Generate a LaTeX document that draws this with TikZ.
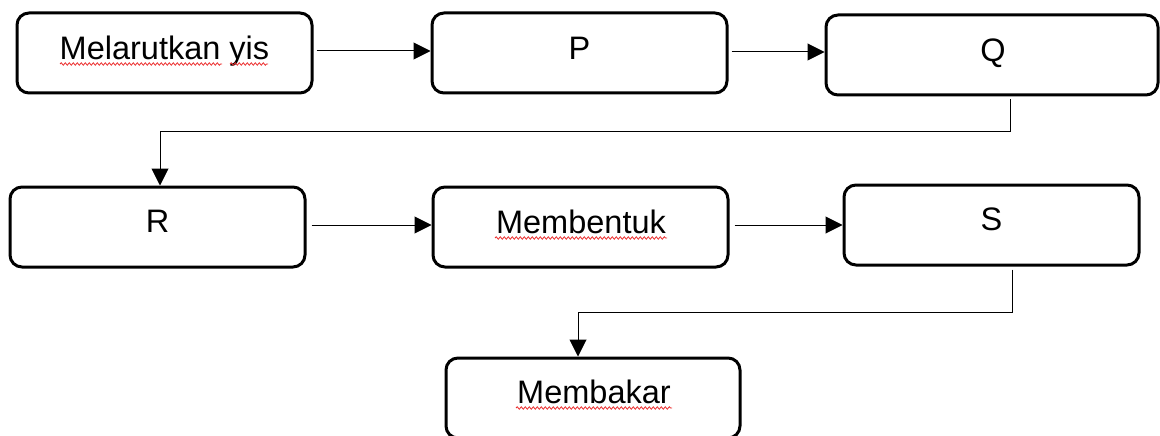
\documentclass[tikz,border=0pt]{standalone}
\usepackage{fontspec}
\setmainfont{Liberation Sans}
\usetikzlibrary{arrows.meta,decorations.pathmorphing}
\definecolor{squig}{RGB}{235,45,45}
\begin{document}
\begin{tikzpicture}[x=1pt,y=-1pt,
  box/.style={draw, line width=3pt, rounded corners=12pt, minimum width=295pt, minimum height=80pt, inner sep=0pt},
  txt/.style={inner sep=0pt, anchor=base, font=\fontsize{32.5}{39}\selectfont},
  conn/.style={line width=1pt},
  arr/.style={conn, -{Triangle[length=17pt,width=17pt]}},
  squiggle/.style={draw=squig, line width=0.8pt, decorate, decoration={snake, segment length=4pt, amplitude=1.2pt}}]
\useasboundingbox (0,0) rectangle (1160,436);
\clip (0,0) rectangle (1160,436);

% boxes
\node[box] (b1) at (164.5,53) {};
\node[box] (b2) at (579.5,53) {};
\node[box, minimum width=332pt] (b3) at (992,55) {};
\node[box] (b4) at (157.5,227) {};
\node[box] (b5) at (580.5,227) {};
\node[box] (b6) at (991.5,225) {};
\node[box, minimum width=294pt] (b7) at (593,398) {};

% texts
\node[txt] (t1) at (164.5,60) {Melarutkan yis};
\node[txt] (t2) at (579.5,60) {P};
\node[txt] (t3) at (993,62) {Q};
\node[txt] (t4) at (157.5,232) {R};
\node[txt] (t5) at (581,233) {Membentuk};
\node[txt] (t6) at (991.5,230) {S};
\node[txt] (t7) at (594,403) {Membakar};

% spelling squiggles
\draw[squiggle] (60,64) -- (222,64);
\draw[squiggle] (230,64) -- (268,64);
\draw[squiggle] (495,238) -- (667,238);
\draw[squiggle] (516,408) -- (672,408);

% bend coordinates
\coordinate (k1) at (160,131);
\coordinate (k2) at (578,312);

% connectors
\draw[arr] ([xshift=3pt,yshift=2pt]b1.east) -- ([yshift=2pt]b2.west);
\draw[arr] ([xshift=3pt,yshift=1pt]b2.east) -- ([yshift=3pt]b3.west);
\draw[arr] ([xshift=18pt,yshift=-3pt]b3.south) |- (k1) -- (b4.north -| k1);
\draw[arr] ([xshift=5pt,yshift=2pt]b4.east) -- ([yshift=2pt]b5.west);
\draw[arr] ([xshift=5pt,yshift=2pt]b5.east) -- (b6.west);
\draw[arr] ([xshift=20.5pt,yshift=-3pt]b6.south) |- (k2) -- (b7.north -| k2);
\end{tikzpicture}
\end{document}
